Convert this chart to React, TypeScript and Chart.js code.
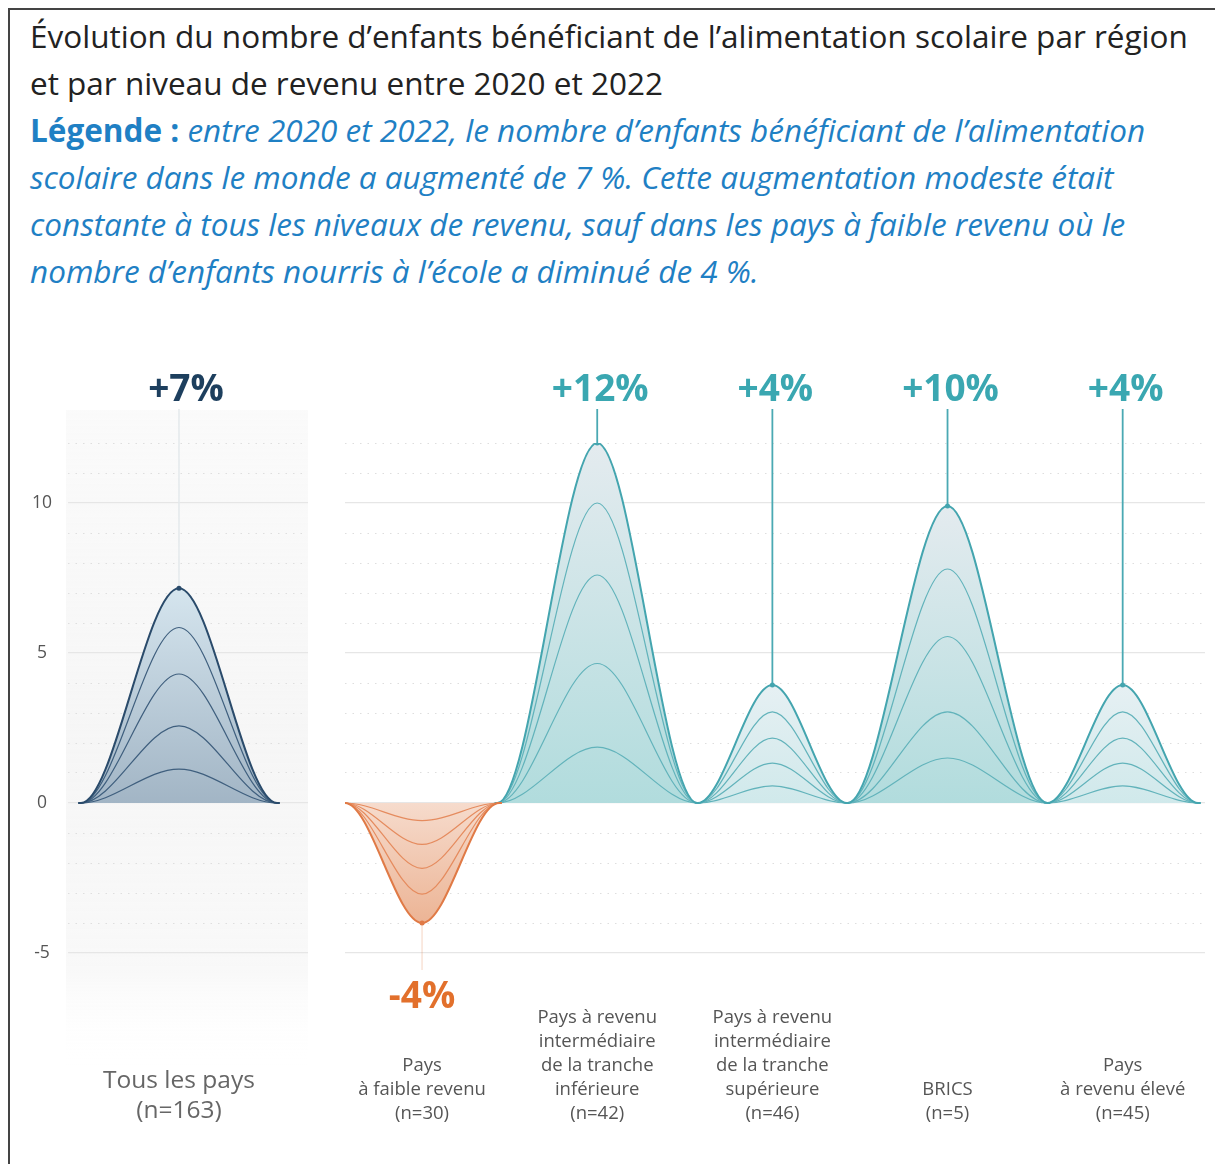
import React, { useEffect, useRef } from 'react';
import { Chart, registerables } from 'chart.js';

Chart.register(...registerables);

const FONT = "'Open Sans', sans-serif";

// ---------------- data ----------------
const allCategory = ['Tous les pays', '(n=163)'];
const categories = [
  ['Pays', 'à faible revenu', '(n=30)'],
  ['Pays à revenu', 'intermédiaire', 'de la tranche', 'inférieure', '(n=42)'],
  ['Pays à revenu', 'intermédiaire', 'de la tranche', 'supérieure', '(n=46)'],
  ['BRICS', '(n=5)'],
  ['Pays', 'à revenu élevé', '(n=45)'],
];
const allChange = 7;
const changes = [-4, 12, 4, 10, 4];
const ringsAll = [7.16, 5.85, 4.3, 2.57, 1.13];
const ringsLow = [-4.0, -3.04, -2.18, -1.38, -0.59];
const ringsLowerMiddle = [12.0, 10.0, 7.6, 4.65, 1.86];
const ringsUpperMiddle = [3.93, 3.04, 2.16, 1.33, 0.57];
const ringsBrics = [9.9, 7.8, 5.55, 3.04, 1.5];
const ringsHigh = [3.93, 3.04, 2.16, 1.33, 0.57];
const yTickLabels = [-5, 0, 5, 10];
const Y_MIN = -5;
const Y_MAX = 12;

// ---------------- styles / layout ----------------
type BellStyle = {
  line: string; inner: string; fillPeak: string; fillBase: string;
  label: string; stem: string; stemWidth: number; labelShift: number;
};
const navyStyle: BellStyle = {
  line: '#2a4b6b', inner: '#3f5f7e', fillPeak: 'rgb(213,229,238)', fillBase: 'rgb(162,181,197)',
  label: '#1d3f5e', stem: '#e4e9ec', stemWidth: 1.5, labelShift: 7,
};
const tealStyle: BellStyle = {
  line: '#44a5af', inner: '#62b3bb', fillPeak: 'rgb(228,235,239)', fillBase: 'rgb(177,220,221)',
  label: '#3aa7b1', stem: '#4aa9b3', stemWidth: 1.8, labelShift: 3,
};
const tealLightStyle: BellStyle = { ...tealStyle, fillPeak: 'rgb(230,240,243)', fillBase: 'rgb(208,233,235)' };
const orangeStyle: BellStyle = {
  line: '#e07a46', inner: '#e58b5e', fillPeak: 'rgb(236,180,149)', fillBase: 'rgb(246,219,204)',
  label: '#e2702c', stem: 'rgba(224,122,70,0.22)', stemWidth: 1.5, labelShift: 0,
};
const groupStyles = [orangeStyle, tealStyle, tealLightStyle, tealStyle, tealLightStyle];
const allHalfWidth = 0.56;
const groupHalfWidths = [0.44, 0.57, 0.425, 0.57, 0.43];
const BLUE = '#1f80c4';

function bellPoints(center: number, hw: number, peak: number) {
  const e = 0.015;
  return [
    { x: center - hw - e, y: 0 },
    { x: center - hw, y: 0 },
    { x: center, y: peak },
    { x: center + hw, y: 0 },
    { x: center + hw + e, y: 0 },
  ];
}

function gradientFor(chart: any, peak: number, cPeak: string, cBase: string) {
  if (!chart.chartArea) return cBase;
  const y = chart.scales.y;
  const g = chart.ctx.createLinearGradient(0, y.getPixelForValue(peak), 0, y.getPixelForValue(0));
  g.addColorStop(0, cPeak);
  g.addColorStop(1, cBase);
  return g;
}

function ringDatasets(center: number, hw: number, rings: number[], st: BellStyle) {
  return rings.map((peak, r) => ({
    data: bellPoints(center, hw, peak),
    borderColor: r === 0 ? st.line : st.inner,
    borderWidth: r === 0 ? 2 : 1.2,
    fill: r === 0 ? 'origin' : false,
    backgroundColor: (ctx: any) => gradientFor(ctx.chart, peak, st.fillPeak, st.fillBase),
    cubicInterpolationMode: 'monotone',
    pointRadius: (c: any) => (r === 0 && c.dataIndex === 2 ? 2.5 : 0),
    pointHoverRadius: 0,
    pointBackgroundColor: st.line,
    pointBorderWidth: 0,
  }));
}

function annotationPlugin(centers: number[], values: number[], peaks: number[], styles: BellStyle[]) {
  return {
    id: 'bellAnnotations',
    beforeDatasetsDraw(chart: any) {
      const { ctx, chartArea, scales } = chart;
      centers.forEach((c, i) => {
        const x = scales.x.getPixelForValue(c);
        const yp = scales.y.getPixelForValue(peaks[i]);
        ctx.save();
        ctx.strokeStyle = styles[i].stem;
        ctx.lineWidth = styles[i].stemWidth;
        ctx.beginPath();
        if (values[i] >= 0) { ctx.moveTo(x, chartArea.top - 34); ctx.lineTo(x, yp); }
        else { ctx.moveTo(x, yp); ctx.lineTo(x, yp + 47); }
        ctx.stroke();
        ctx.restore();
      });
    },
    afterDatasetsDraw(chart: any) {
      const { ctx, chartArea, scales } = chart;
      centers.forEach((c, i) => {
        const x = scales.x.getPixelForValue(c);
        const v = values[i];
        ctx.save();
        ctx.font = `700 37px ${FONT}`;
        ctx.fillStyle = styles[i].label;
        ctx.textAlign = 'center';
        ctx.textBaseline = 'middle';
        const y = v >= 0 ? chartArea.top - 53 : chartArea.bottom + 44;
        ctx.fillText(`${v > 0 ? '+' : ''}${v}%`, x + styles[i].labelShift, y);
        ctx.restore();
      });
    },
  };
}

const panelBackground = {
  id: 'panelBackground',
  beforeDraw(chart: any) {
    const { ctx, chartArea: a } = chart;
    const top = a.top - 33;
    const bottom = a.bottom + 117;
    const g = ctx.createLinearGradient(0, top, 0, bottom);
    g.addColorStop(0, 'rgba(249,249,249,0.8)');
    g.addColorStop(0.5, 'rgba(246,246,246,1)');
    g.addColorStop(0.85, 'rgba(248,248,248,0.9)');
    g.addColorStop(1, 'rgba(255,255,255,0)');
    ctx.save();
    ctx.fillStyle = g;
    ctx.fillRect(a.left - 2, top, a.right - a.left + 2, bottom - top);
    ctx.restore();
  },
};

function yScale(showLabels: boolean) {
  return {
    min: Y_MIN,
    max: Y_MAX,
    afterFit: (s: any) => {
      s.width = showLabels ? 50 : 0;
      s.paddingTop = 0;
      s.paddingBottom = 0;
    },
    ticks: {
      display: showLabels,
      stepSize: 1,
      autoSkip: false,
      crossAlign: 'center',
      padding: 16,
      color: '#555',
      font: { family: FONT, size: 17.5 },
      callback: (v: any) => (yTickLabels.includes(Number(v)) ? String(v) : ''),
    },
    grid: {
      drawTicks: false,
      color: (c: any) => (c.tick && c.tick.value % 5 === 0 ? '#e6e6e6' : '#dedede'),
      lineWidth: (c: any) => (c.tick && c.tick.value % 5 === 0 ? 1.2 : 1),
    },
    border: {
      display: false,
      dash: (c: any) => (c.tick && c.tick.value % 5 === 0 ? [] : [1.5, 6]),
    },
  };
}

function xScale(min: number, max: number, centers: number[], labels: string[][], tick: any) {
  return {
    type: 'linear',
    min,
    max,
    afterFit: (s: any) => {
      s.height = 200;
      s.paddingLeft = 0;
      s.paddingRight = 0;
    },
    afterBuildTicks: (s: any) => { s.ticks = centers.map((v) => ({ value: v })); },
    grid: { display: false },
    border: { display: false },
    ticks: {
      autoSkip: false,
      maxRotation: 0,
      minRotation: 0,
      ...tick,
      callback: (_v: any, i: number) => labels[i],
    },
  };
}

function baseOptions(scales: any, padding: any) {
  return {
    responsive: false,
    animation: false,
    devicePixelRatio: 1,
    layout: { padding },
    events: [],
    plugins: {
      legend: { display: false },
      tooltip: { enabled: false },
      filler: { drawTime: 'beforeDatasetsDraw' },
    },
    scales,
  };
}

export default function App() {
  const leftRef = useRef<HTMLCanvasElement>(null);
  const rightRef = useRef<HTMLCanvasElement>(null);

  useEffect(() => {
    const allCenters = [0];
    const left = new Chart(leftRef.current as HTMLCanvasElement, {
      type: 'line',
      data: { datasets: ringDatasets(0, allHalfWidth, ringsAll, navyStyle) as any },
      options: baseOptions(
        {
          x: xScale(-0.634, 0.737, allCenters, [allCategory], {
            padding: 105,
            color: '#666',
            font: { family: FONT, size: 24.5, lineHeight: '30px' },
            crossAlign: 'near',
          }),
          y: yScale(true),
        },
        { left: 18, right: 12, top: 113, bottom: 11 },
      ) as any,
      plugins: [panelBackground, annotationPlugin(allCenters, [allChange], [ringsAll[0]], [navyStyle])],
    });

    const centers = [0, 1, 2, 3, 4];
    const groups = [ringsLow, ringsLowerMiddle, ringsUpperMiddle, ringsBrics, ringsHigh];
    const datasets: any[] = [];
    groups.forEach((rings, i) => {
      datasets.push(...ringDatasets(centers[i], groupHalfWidths[i], rings, groupStyles[i]));
    });
    const right = new Chart(rightRef.current as HTMLCanvasElement, {
      type: 'line',
      data: { datasets },
      options: baseOptions(
        {
          x: xScale(-0.44, 4.47, centers, categories, {
            padding: 57,
            color: '#555',
            font: { family: FONT, size: 18.5, lineHeight: '24px' },
            crossAlign: 'far',
          }),
          y: yScale(false),
        },
        { left: 25, right: 10, top: 113, bottom: 11 },
      ) as any,
      plugins: [annotationPlugin(centers, changes, groups.map((g) => g[0]), groupStyles)],
    });
    return () => { left.destroy(); right.destroy(); };
  }, []);

  const italic = { color: BLUE, fontStyle: 'italic' as const };

  return (
    <div style={{ position: 'absolute', left: 0, top: 0, width: 1215, height: 1164, overflow: 'hidden', background: '#fff', fontFamily: FONT }}>
      <div style={{ position: 'absolute', left: 8, top: 8, width: 1260, height: 1220, border: '2px solid #444', boxSizing: 'border-box' }} />
      <div style={{ position: 'absolute', left: 30, top: 12, fontSize: 31.5, lineHeight: '47px', color: '#222', whiteSpace: 'nowrap' }}>
        <div>Évolution du nombre d’enfants bénéficiant de l’alimentation scolaire par région</div>
        <div>et par niveau de revenu entre 2020 et 2022</div>
        <div style={italic}>
          <span style={{ fontStyle: 'normal', fontWeight: 700 }}>Légende :</span> entre 2020 et 2022, le nombre d’enfants bénéficiant de l’alimentation
        </div>
        <div style={italic}>scolaire dans le monde a augmenté de 7 %. Cette augmentation modeste était</div>
        <div style={italic}>constante à tous les niveaux de revenu, sauf dans les pays à faible revenu où le</div>
        <div style={italic}>nombre d’enfants nourris à l’école a diminué de 4 %.</div>
      </div>
      <canvas ref={leftRef} width={320} height={834} style={{ position: 'absolute', left: 0, top: 330 }} />
      <canvas ref={rightRef} width={895} height={834} style={{ position: 'absolute', left: 320, top: 330 }} />
    </div>
  );
}
